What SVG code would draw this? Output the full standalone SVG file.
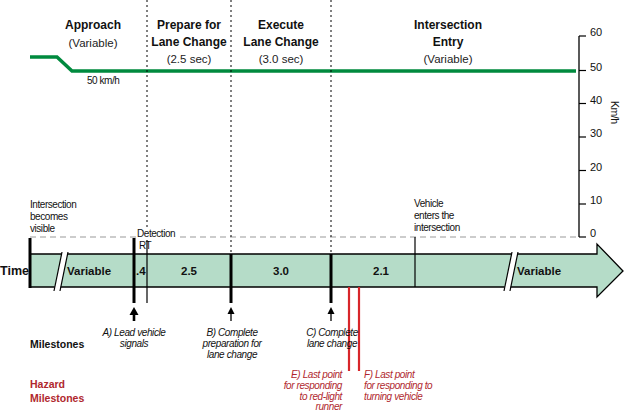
<svg xmlns="http://www.w3.org/2000/svg" width="624" height="414" viewBox="0 0 624 414">
<style>
text{font-family:"Liberation Sans",Arial,sans-serif;fill:#111}
.h{font-size:12px;font-weight:bold;text-anchor:middle}
.hs{font-size:11.5px;text-anchor:middle;fill:#222}
.s{font-size:10px;letter-spacing:-0.45px}
.ax{font-size:11px}
.b{font-size:11.5px;font-weight:bold}
.m{font-size:10px;font-style:italic;text-anchor:middle;letter-spacing:-0.4px}
.r{fill:#b0282e}
.dot{stroke:#000;stroke-width:1;stroke-dasharray:2,3;fill:none}
.thick{stroke:#000;stroke-width:3;fill:none}
.thin{stroke:#000;stroke-width:1.2;fill:none}
.red{stroke:#d8262a;stroke-width:2.2;fill:none}
.head{fill:#000}
</style>

<g id="speed-graph">
<polyline points="30,57 57,57 72,71 576,71" fill="none" stroke="#008a3e" stroke-width="3.5"/>
<text class="s" x="87" y="84">50 km/h</text>
</g>

<g id="axis">
<line x1="579" y1="36" x2="579" y2="237" stroke="#000" stroke-width="1.3"/>
<g stroke="#000" stroke-width="1.2">
<line x1="579" y1="36" x2="586" y2="36"/>
<line x1="579" y1="70.5" x2="586" y2="70.5"/>
<line x1="579" y1="103.5" x2="586" y2="103.5"/>
<line x1="579" y1="137" x2="586" y2="137"/>
<line x1="579" y1="170.5" x2="586" y2="170.5"/>
<line x1="579" y1="204" x2="586" y2="204"/>
<line x1="579" y1="237" x2="586" y2="237"/>
</g>
<g class="ax">
<text x="590" y="36">60</text>
<text x="590" y="71">50</text>
<text x="590" y="104">40</text>
<text x="590" y="137">30</text>
<text x="590" y="171">20</text>
<text x="590" y="204">10</text>
<text x="590" y="237">0</text>
</g>
<text class="s" style="font-size:10.5px" transform="translate(611,101) rotate(90)">Km/h</text>
</g>

<g id="phase-headings">
<text class="h" x="93" y="29">Approach</text>
<text class="hs" x="93" y="47">(Variable)</text>
<text class="h" x="189" y="29">Prepare for</text>
<text class="h" x="189" y="46">Lane Change</text>
<text class="hs" x="189" y="63">(2.5 sec)</text>
<text class="h" x="281" y="29">Execute</text>
<text class="h" x="281" y="46">Lane Change</text>
<text class="hs" x="281" y="63">(3.0 sec)</text>
<text class="h" x="448" y="29">Intersection</text>
<text class="h" x="448" y="46">Entry</text>
<text class="hs" x="448" y="63">(Variable)</text>
</g>

<g id="guides">
<line x1="30" y1="237" x2="578" y2="237" stroke="#999" stroke-width="1.2" stroke-dasharray="6,4"/>
<line class="dot" x1="147" y1="0" x2="147" y2="228"/>
<line class="dot" x1="231" y1="0" x2="231" y2="254"/>
<line class="dot" x1="331" y1="0" x2="331" y2="254"/>
<rect x="136" y="229" width="40" height="9" fill="#fff"/>
</g>

<g id="timeline">
<path d="M30,254 H597 V244 L623,271 L597,297 V287 H30 Z" fill="#b5dcc8" stroke="#000" stroke-width="1.3"/>
<polygon points="62,252 68,252 60,290 54,290" fill="#fff"/>
<line class="thin" x1="62" y1="252" x2="54" y2="291"/>
<line class="thin" x1="68" y1="252" x2="60" y2="291"/>
<polygon points="512,252 518,252 510,290 504,290" fill="#fff"/>
<line class="thin" x1="512" y1="252" x2="504" y2="291"/>
<line class="thin" x1="518" y1="252" x2="510" y2="291"/>
<text x="0" y="275" font-size="12.5" font-weight="bold">Time</text>
<text class="b" x="67" y="275">Variable</text>
<text class="b" x="136" y="275">.4</text>
<text class="b" x="189" y="275" text-anchor="middle">2.5</text>
<text class="b" x="281" y="275" text-anchor="middle">3.0</text>
<text class="b" x="381" y="275" text-anchor="middle">2.1</text>
<text class="b" x="517" y="275">Variable</text>
</g>

<g id="markers">
<line class="thick" x1="30" y1="238" x2="30" y2="288"/>
<line class="thick" x1="134" y1="238" x2="134" y2="303"/>
<line class="thin" x1="147" y1="240" x2="147" y2="303"/>
<line class="thick" x1="231" y1="254" x2="231" y2="303"/>
<line class="thick" x1="331" y1="254" x2="331" y2="303"/>
<line class="thin" x1="415" y1="237" x2="415" y2="287"/>
<line class="red" x1="349" y1="287" x2="349" y2="371"/>
<line class="red" x1="359" y1="287" x2="359" y2="371"/>
</g>

<g id="connectors">
<line x1="134" y1="321" x2="134" y2="312" stroke="#000" stroke-width="2.6"/>
<path class="head" d="M134,307 L138.5,315 L129.5,315 Z"/>
<line x1="231" y1="321" x2="231" y2="312" stroke="#000" stroke-width="1.3"/>
<path class="head" d="M231,307 L234.5,314 L227.5,314 Z"/>
<line x1="331" y1="321" x2="331" y2="312" stroke="#000" stroke-width="1.3"/>
<path class="head" d="M331,307 L334.5,314 L327.5,314 Z"/>
</g>

<g id="labels">
<text class="s" x="30" y="208">Intersection</text>
<text class="s" x="30" y="220">becomes</text>
<text class="s" x="30" y="232">visible</text>
<text class="s" x="137" y="237">Detection</text>
<text class="s" x="139" y="249">RT</text>
<text class="s" x="414" y="207">Vehicle</text>
<text class="s" x="414" y="219">enters the</text>
<text class="s" x="414" y="231">intersection</text>
</g>

<g id="milestones">
<text class="b" x="30" y="348" style="font-size:10.5px">Milestones</text>
<text class="m" x="134" y="336">A) Lead vehicle</text>
<text class="m" x="134" y="347">signals</text>
<text class="m" x="232" y="336">B) Complete</text>
<text class="m" x="232" y="347">preparation for</text>
<text class="m" x="232" y="358">lane change</text>
<text class="m" x="332" y="336">C) Complete</text>
<text class="m" x="332" y="347">lane change</text>
</g>

<g id="hazard-milestones">
<text class="b r" x="30" y="388" style="font-size:10.5px">Hazard</text>
<text class="b r" x="30" y="402" style="font-size:10.5px">Milestones</text>
<text class="m r" x="342" y="378" style="text-anchor:end">E) Last point</text>
<text class="m r" x="342" y="389" style="text-anchor:end">for responding</text>
<text class="m r" x="342" y="400" style="text-anchor:end">to red-light</text>
<text class="m r" x="342" y="410" style="text-anchor:end">runner</text>
<text class="m r" x="364" y="378" style="text-anchor:start">F) Last point</text>
<text class="m r" x="364" y="389" style="text-anchor:start">for responding to</text>
<text class="m r" x="364" y="400" style="text-anchor:start">turning vehicle</text>
</g>
</svg>
